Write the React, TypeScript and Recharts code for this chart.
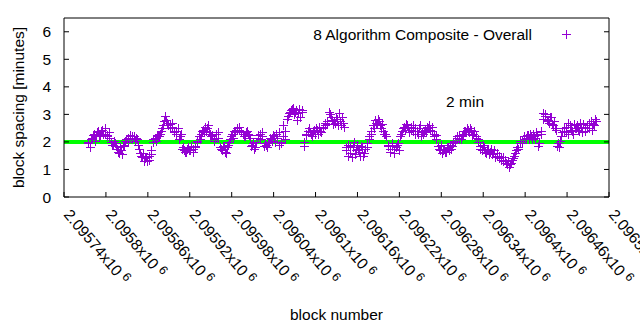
import React from 'react';
import { ScatterChart, Scatter, XAxis, YAxis, ReferenceLine, ReferenceDot, Legend } from 'recharts';

const FIRST_BLOCK = 2095774;
const BLOCK_STEP = 3;
const spacingPassA: number[] = [
  2.0, 1.8, 2.15, 2.3, 2.2,
  2.4, 2.25, 2.45, 2.3, 2.2, 2.35,
  2.0, 1.9, 1.95,
  1.75, 1.6, 1.7, 1.85,
  2.05, 2.15, 2.2, 2.1, 2.2, 2.15,
  1.9, 1.6, 1.45, 1.3, 1.45, 1.35, 1.55,
  2.0, 2.15, 2.25, 2.2,
  2.4, 2.6, 2.95, 2.7, 2.65, 2.55, 2.4,
  2.3, 2.5, 2.2,
  1.75, 1.7, 1.65, 1.8, 1.7, 1.75, 1.85,
  2.05, 2.2, 2.3, 2.45, 2.55, 2.5, 2.35,
  2.2, 2.1, 2.3, 2.15,
  1.8, 1.7, 1.85, 1.6, 1.9,
  2.1, 2.3, 2.4, 2.5, 2.45, 2.35, 2.3, 2.2, 2.4, 2.25,
  1.85, 1.95, 1.8,
  2.15, 2.3, 2.2,
  1.85, 1.9, 1.95,
  2.15, 2.05, 2.2, 2.3, 1.9, 2.0, 2.6, 2.1,
  2.85, 3.05, 3.15, 3.25, 3.1, 2.8, 3.2, 3.1,
  1.85,
  2.3, 2.4, 2.35, 2.2, 2.45, 2.5, 2.3, 2.4, 2.55,
  2.6, 2.75, 3.1, 2.9, 2.65, 2.7, 2.85,
  3.05, 2.6, 2.7,
  1.8, 1.5, 1.85, 1.45, 2.0, 1.7, 1.75, 1.5, 1.8, 1.6, 1.95,
  2.2, 2.4, 2.6, 2.8, 2.7, 2.75, 2.5, 2.4, 2.3,
  1.9, 1.75, 1.85, 1.6, 1.8, 1.95,
  2.2, 2.4, 2.55, 2.65, 2.5, 2.45, 2.6, 2.3, 2.4, 2.5, 2.2,
  2.3, 2.45, 2.55, 2.6, 2.4, 2.3, 2.25,
  1.85, 1.7, 1.6, 1.75, 1.65, 1.8, 1.9, 1.85,
  2.05, 2.15, 2.25, 2.1,
  2.3, 2.4, 2.5, 2.35, 2.45, 2.3, 2.2, 2.1,
  1.85, 1.7, 1.8, 1.6, 1.75,
  1.65, 1.55, 1.7, 1.5, 1.4, 1.45, 1.3, 1.35, 1.2, 1.1, 1.25, 1.4,
  1.6, 1.8, 1.95, 2.05, 2.2,
  2.15, 2.25, 2.3, 2.1, 2.2, 2.35,
  1.85, 2.4,
  3.05, 2.95, 2.8, 2.7, 2.9, 2.6, 2.5,
  1.85, 1.8, 2.2,
  2.4, 2.55, 2.3, 2.6, 2.4, 2.65, 2.5, 2.45, 2.7, 2.35, 2.55, 2.6, 2.5, 2.75, 2.65, 2.85,
];
const spacingPassB: number[] = [
  1.95, 2.1, 2.25, 2.05, 2.35,
  2.2, 2.4, 2.3, 2.5, 2.25, 2.15,
  1.9, 2.05, 1.85,
  1.65, 1.8, 1.55, 1.9,
  2.1, 2.0, 2.25, 2.2, 2.05, 2.1,
  1.75, 1.5, 1.6, 1.4, 1.3, 1.5, 1.7,
  2.1, 2.05, 2.2, 2.3,
  2.5, 2.75, 2.8, 2.6, 2.5, 2.7, 2.35,
  2.4, 2.1, 2.3,
  1.8, 1.65, 1.75, 1.7, 1.85, 1.65, 1.8,
  2.0, 2.1, 2.4, 2.35, 2.4, 2.6, 2.3,
  2.25, 2.05, 2.15, 2.35,
  1.75, 1.85, 1.65, 1.8, 2.0,
  2.2, 2.15, 2.35, 2.45, 2.55, 2.4, 2.2, 2.35, 2.3, 2.15,
  1.9, 1.75, 2.0,
  2.25, 2.1, 2.35,
  1.95, 1.8, 2.0,
  2.1, 2.25, 2.0, 2.15, 2.35, 1.95, 2.2, 2.4,
  2.95, 3.1, 3.2, 3.0, 3.15, 3.05, 2.9, 3.15,
  2.0,
  2.25, 2.5, 2.3, 2.4, 2.3, 2.45, 2.55, 2.35, 2.5,
  2.7, 2.65, 3.0, 2.8, 2.75, 2.9, 2.6,
  2.75, 2.9, 2.55,
  1.7, 1.9, 1.6, 1.8, 1.55, 1.9, 1.65, 1.85, 1.5, 1.75, 1.8,
  2.1, 2.3, 2.5, 2.7, 2.85, 2.6, 2.65, 2.3, 2.2,
  1.85, 1.65, 1.95, 1.75, 1.9, 1.7,
  2.3, 2.5, 2.45, 2.6, 2.35, 2.55, 2.4, 2.5, 2.3, 2.6, 2.35,
  2.4, 2.35, 2.5, 2.45, 2.55, 2.2, 2.1,
  1.75, 1.9, 1.7, 1.65, 1.8, 1.7, 1.75, 1.95,
  2.0, 2.2, 2.1, 2.2,
  2.4, 2.35, 2.45, 2.5, 2.25, 2.4, 2.15, 2.0,
  1.75, 1.9, 1.65, 1.7, 1.55,
  1.75, 1.6, 1.45, 1.6, 1.5, 1.35, 1.45, 1.25, 1.3, 1.2, 1.35, 1.5,
  1.7, 1.75, 2.05, 1.95, 2.1,
  2.25, 2.1, 2.2, 2.3, 2.15, 2.25,
  1.95, 2.3,
  2.85, 3.0, 2.75, 2.9, 2.65, 2.75, 2.45,
  1.95, 2.05, 2.35,
  2.5, 2.35, 2.7, 2.45, 2.3, 2.5, 2.6, 2.4, 2.55, 2.65, 2.4, 2.5, 2.7, 2.45, 2.6, 2.75,
];

const xTicks = [2095740, 2095800, 2095860, 2095920, 2095980, 2096040, 2096100, 2096160, 2096220, 2096280, 2096340, 2096400, 2096460, 2096520];
const xTickMantissas = ['2.09574', '2.0958', '2.09586', '2.09592', '2.09598', '2.09604', '2.0961', '2.09616', '2.09622', '2.09628', '2.09634', '2.0964', '2.09646', '2.09652'];
const xTickExponent = '6';
const yTicks = [0, 1, 2, 3, 4, 5, 6];
const xDomain: [number, number] = [2095740, 2096520];
const yDomain: [number, number] = [0, 6.5];
const targetSpacing = 2;
const seriesLabel = '8 Algorithm Composite - Overall';
const annotationText = '2 min';
const annotationBlock = 2096314;
const annotationValue = 3.45;
const xAxisTitle = 'block number';
const yAxisTitle = 'block spacing [minutes]';

const FONT = "'Liberation Sans', Arial, Helvetica, sans-serif";
const PURPLE = '#9400d3';
const GREEN = '#00ff00';
const FS = 15.5;

const data = [
  ...spacingPassA.map((v, i) => ({ block: FIRST_BLOCK + i * BLOCK_STEP, spacing: v })),
  ...spacingPassB.map((v, i) => ({ block: FIRST_BLOCK + 1 + i * BLOCK_STEP, spacing: v })),
];

const PlusShape = (props: any) => {
  const { cx, cy } = props;
  if (cx == null || cy == null) return null;
  const x = Math.round(cx) + 0.5;
  const y = Math.round(cy) + 0.5;
  return <path d={`M${x - 4.5},${y}H${x + 4.5}M${x},${y - 4.5}V${y + 4.5}`} stroke={PURPLE} strokeWidth={1} fill="none" />;
};

const XTick = (props: any) => {
  const { x, y, payload } = props;
  const idx = xTicks.indexOf(payload.value);
  const label = idx >= 0 ? xTickMantissas[idx] : String(payload.value);
  const x0 = x - 1;
  return (
    <text x={x0} y={y} transform={`rotate(50 ${x0} ${y})`} fontFamily={FONT} fontSize={FS} fill="#000" textAnchor="start">
      {label}x10<tspan dx={4} dy={-5} fontSize={FS * 0.8}>{xTickExponent}</tspan>
    </text>
  );
};

const EmptyTick = () => <g />;

const LegendContent = () => (
  <svg width={300} height={24} style={{ display: 'block' }}>
    <text x={252} y={17} textAnchor="end" fontFamily={FONT} fontSize={FS} fill="#000">{seriesLabel}</text>
    <path d="M282,11.5H291M286.5,7V16" stroke={PURPLE} strokeWidth={1} />
  </svg>
);

export default function App() {
  return (
    <div style={{ position: 'absolute', left: 0, top: 0, width: 640, height: 330, background: '#fff' }}>
      <ScatterChart width={640} height={330} margin={{ top: 17, right: 30, bottom: 0, left: 0 }}>
        <XAxis
          xAxisId="b"
          dataKey="block"
          type="number"
          domain={xDomain}
          ticks={xTicks}
          allowDataOverflow
          height={133}
          tickSize={-5}
          tickMargin={23}
          tick={<XTick />}
          interval={0}
          stroke="#000"
          tickLine={{ stroke: '#000' }}
          axisLine={{ stroke: '#000' }}
          label={{ value: xAxisTitle, position: 'insideBottom', offset: 10, style: { fontFamily: FONT, fontSize: FS, fill: '#000' } }}
        />
        <XAxis
          xAxisId="t"
          orientation="top"
          type="number"
          domain={xDomain}
          ticks={xTicks}
          allowDataOverflow
          height={1}
          tickSize={-5}
          tick={<EmptyTick />}
          interval={0}
          stroke="#000"
          axisLine={{ stroke: '#000' }}
        />
        <YAxis
          yAxisId="l"
          dataKey="spacing"
          type="number"
          domain={yDomain}
          ticks={yTicks}
          allowDataOverflow
          width={64}
          tickSize={-5}
          tickMargin={18}
          interval={0}
          stroke="#000"
          tick={{ fontFamily: FONT, fontSize: FS, fill: '#000' }}
          axisLine={{ stroke: '#000' }}
          label={{ value: yAxisTitle, angle: -90, position: 'insideLeft', offset: 18, style: { textAnchor: 'middle', fontFamily: FONT, fontSize: FS, fill: '#000' } }}
        />
        <YAxis
          yAxisId="r"
          orientation="right"
          type="number"
          domain={yDomain}
          ticks={yTicks}
          allowDataOverflow
          width={1}
          tickSize={-5}
          tick={<EmptyTick />}
          interval={0}
          stroke="#000"
          axisLine={{ stroke: '#000' }}
        />
        <Legend
          layout="vertical"
          align="center"
          verticalAlign="middle"
          content={<LegendContent />}
          wrapperStyle={{ left: 280, top: 23, width: 300, height: 24 }}
        />
        <Scatter
          name={seriesLabel}
          data={data}
          xAxisId="b"
          yAxisId="l"
          shape={<PlusShape />}
          isAnimationActive={false}
        />
        <ReferenceLine xAxisId="b" yAxisId="l" y={targetSpacing} stroke={GREEN} strokeWidth={4} />
        <ReferenceDot
          xAxisId="b"
          yAxisId="l"
          x={annotationBlock}
          y={annotationValue}
          r={0}
          fill="none"
          stroke="none"
          label={{ value: annotationText, position: 'center', style: { fontFamily: FONT, fontSize: FS, fill: '#000' } }}
        />
      </ScatterChart>
    </div>
  );
}
